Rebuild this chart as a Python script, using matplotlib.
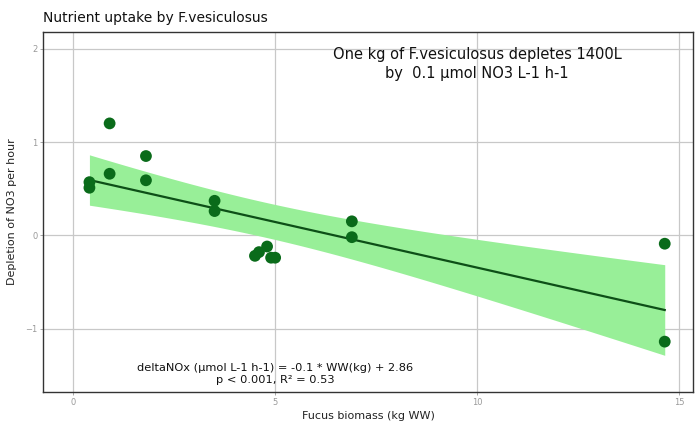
import numpy as np
import matplotlib
matplotlib.use("Agg")
import matplotlib.pyplot as plt

# biomass (kg WW) vs depletion of NO3 per hour
biomass = [0.4, 0.4, 0.9, 0.9, 1.8, 1.8, 3.5, 3.5,
           4.5, 4.6, 4.8, 4.9, 5.0, 6.9, 6.9, 14.65, 14.65]
depletion = [0.57, 0.51, 1.20, 0.66, 0.85, 0.59, 0.37, 0.26,
             -0.22, -0.18, -0.12, -0.24, -0.24, 0.15, -0.02, -0.09, -1.14]
T_975_DF15 = 2.131  # t quantile for 95% CI, n-2 = 15

x = np.array(biomass)
y = np.array(depletion)
n = len(x)
b1, b0 = np.polyfit(x, y, 1)
xs = np.linspace(x.min(), x.max(), 80)
fit = b0 + b1 * xs
resid = y - (b0 + b1 * x)
s = np.sqrt(np.sum(resid ** 2) / (n - 2))
se = s * np.sqrt(1.0 / n + (xs - x.mean()) ** 2 / np.sum((x - x.mean()) ** 2))

fig = plt.figure(figsize=(6.95, 4.21), dpi=100)
ax = fig.add_axes([43 / 695, 1 - 392 / 421, 650 / 695, 360 / 421])

ax.fill_between(xs, fit - T_975_DF15 * se, fit + T_975_DF15 * se,
                color="#98ef98", lw=0, zorder=2)
ax.plot(xs, fit, color="#0d4f17", lw=1.6, zorder=3)
ax.scatter(x, y, s=72, color="#0a6b1a", edgecolors="none", zorder=4)

ax.set_xlim(-0.75, 15.35)
ax.set_ylim(-1.68, 2.18)
ax.set_xticks([0, 5, 10, 15])
ax.set_yticks([-1, 0, 1, 2])
ax.grid(True, color="#c8c8c8", lw=0.9)
ax.set_axisbelow(True)
for sp in ax.spines.values():
    sp.set_color("#333333")
    sp.set_linewidth(1.0)
ax.tick_params(labelsize=6, colors="#999999", length=2, width=0.6, pad=2)

ax.set_xlabel("Fucus biomass (kg WW)", fontsize=8, color="#222222")
ax.set_ylabel("Depletion of NO3 per hour", fontsize=8, color="#222222")
ax.xaxis.set_label_coords(0.5, -19 / 360)
ax.yaxis.set_label_coords(-26 / 650, 0.5)
fig.text(43 / 695, 1 - 18 / 421, "Nutrient uptake by F.vesiculosus",
         fontsize=10, va="center", ha="left", color="#111111")

ax.text(10, 1.84, "One kg of F.vesiculosus depletes 1400L\nby  0.1 \u00b5mol NO3 L-1 h-1",
        ha="center", va="center", fontsize=10.5, linespacing=1.35, color="#111111")
ax.text(5, -1.485, "deltaNOx (\u00b5mol L-1 h-1) = -0.1 * WW(kg) + 2.86\np < 0.001, R\u00b2 = 0.53",
        ha="center", va="center", fontsize=8.2, linespacing=1.3, color="#111111")

fig.savefig("out.png", dpi=100)
